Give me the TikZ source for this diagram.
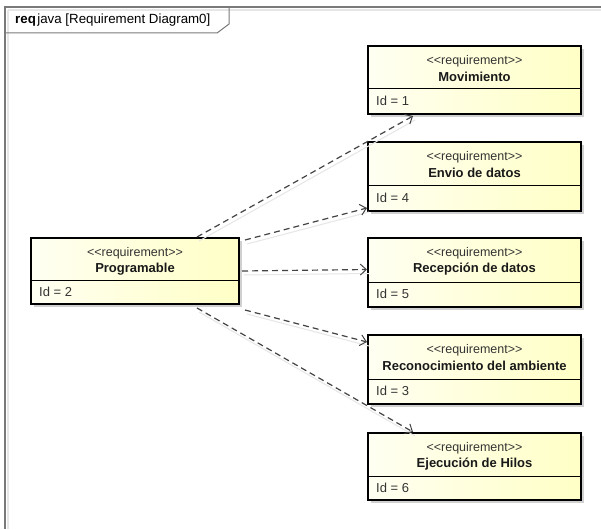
\documentclass[tikz,border=0pt]{standalone}
\usepackage{fontspec}
\setmainfont{Liberation Sans}
\usetikzlibrary{arrows.meta,calc}

\definecolor{framegray}{HTML}{7A7A7A}
\definecolor{faint}{HTML}{E6E6E6}
\definecolor{boxshadow}{HTML}{D0D0D0}
\definecolor{paleleft}{HTML}{FFFFF2}
\definecolor{paleright}{HTML}{FFFFC6}
\definecolor{linkgray}{HTML}{444444}

\tikzset{
  reqbody/.style={rectangle, draw=black, line width=2pt, inner sep=0pt,
    left color=paleleft, right color=paleright, anchor=north west},
  stereo/.style={font=\fontsize{12.5}{13}\selectfont, text=black!80, inner sep=0pt},
  reqname/.style={font=\fontsize{13}{14}\selectfont\bfseries, text=black!90, inner sep=0pt},
  reqid/.style={font=\fontsize{13}{14}\selectfont, text=black!80, inner sep=0pt, anchor=west},
  traceto/.style={linkgray, line width=1.2pt, dash pattern=on 6pt off 4pt,
    -{Straight Barb[length=6pt,width=11pt,line width=1pt]},
    preaction={draw=faint, solid, line width=1pt, -, transform canvas={shift={(2pt,-4pt)}}}},
}

% requirement block: name, x, y, width, height, separator offset, title, id
\newcommand\reqblock[8]{%
  \fill[boxshadow] (#2+4,#3+4) rectangle (#2+#4+4,#3+#5+4);
  \node[reqbody, minimum width=#4pt, minimum height=#5pt] (#1) at (#2,#3) {};
  \draw[black, line width=1pt] ($(#1.north west)+(0,#6)$) -- ($(#1.north east)+(0,#6)$);
  \node[stereo] (#1-st) at ($(#1.north)+(0,16)$) {<\kern0pt<requirement>\kern0pt>};
  \node[reqname] (#1-nm) at ($(#1.north)+(0,32)$) {#7};
  \node[reqid] (#1-id) at ($(#1.north west)+(9,#6+12)$) {Id = #8};
}

\begin{document}
\begin{tikzpicture}[x=1pt, y=-1pt]
  \useasboundingbox (0,0) rectangle (601,529);
  \fill[white] (0,0) rectangle (601,529);

  % diagram frame with its name tab
  \draw[faint, line width=1.5pt] (8,10) -- (601,10);
  \draw[faint, line width=1.5pt] (8,10) -- (8,529);
  \draw[framegray, line width=1.2pt] (5,529) -- (5,7) -- (601,7);
  \draw[framegray, line width=1pt] (5,33) -- (217,33) -- (229,24) -- (229,7);
  \node[anchor=west, inner sep=0pt, font=\fontsize{13.3}{14}\selectfont] (title) at (15,20)
    {\textbf{req}\kern1.5pt java [Requirement Diagram0]};

  % requirement blocks
  \reqblock{prog}{30}{237}{208}{66}{43}{Programable}{2}
  \reqblock{mov}{367}{45}{213}{68}{44}{Movimiento}{1}
  \reqblock{env}{367}{141}{213}{69}{45}{Envio de datos}{4}
  \reqblock{rec}{367}{237}{213}{69}{45}{Recepción de datos}{5}
  \reqblock{amb}{367}{334}{213}{69}{45}{Reconocimiento del ambiente}{3}
  \reqblock{hil}{367}{432}{213}{67}{44}{Ejecución de Hilos}{6}

  % trace dependencies from Programable
  \draw[traceto] ($(prog.north west)+(167,0)$) -- ($(mov.south west)+(46,1)$);
  \draw[traceto] ($(prog.north east)+(5,3)$) -- ($(env.south west)+(0,-4)$);
  \draw[traceto] ($(prog.east)+(2,0)$) -- ($(rec.west)+(0,-3)$);
  \draw[traceto] ($(prog.south east)+(5,5)$) -- ($(amb.north west)+(0,8)$);
  \draw[traceto] ($(prog.south west)+(167,3)$) -- ($(hil.north west)+(46,0)$);
\end{tikzpicture}
\end{document}
